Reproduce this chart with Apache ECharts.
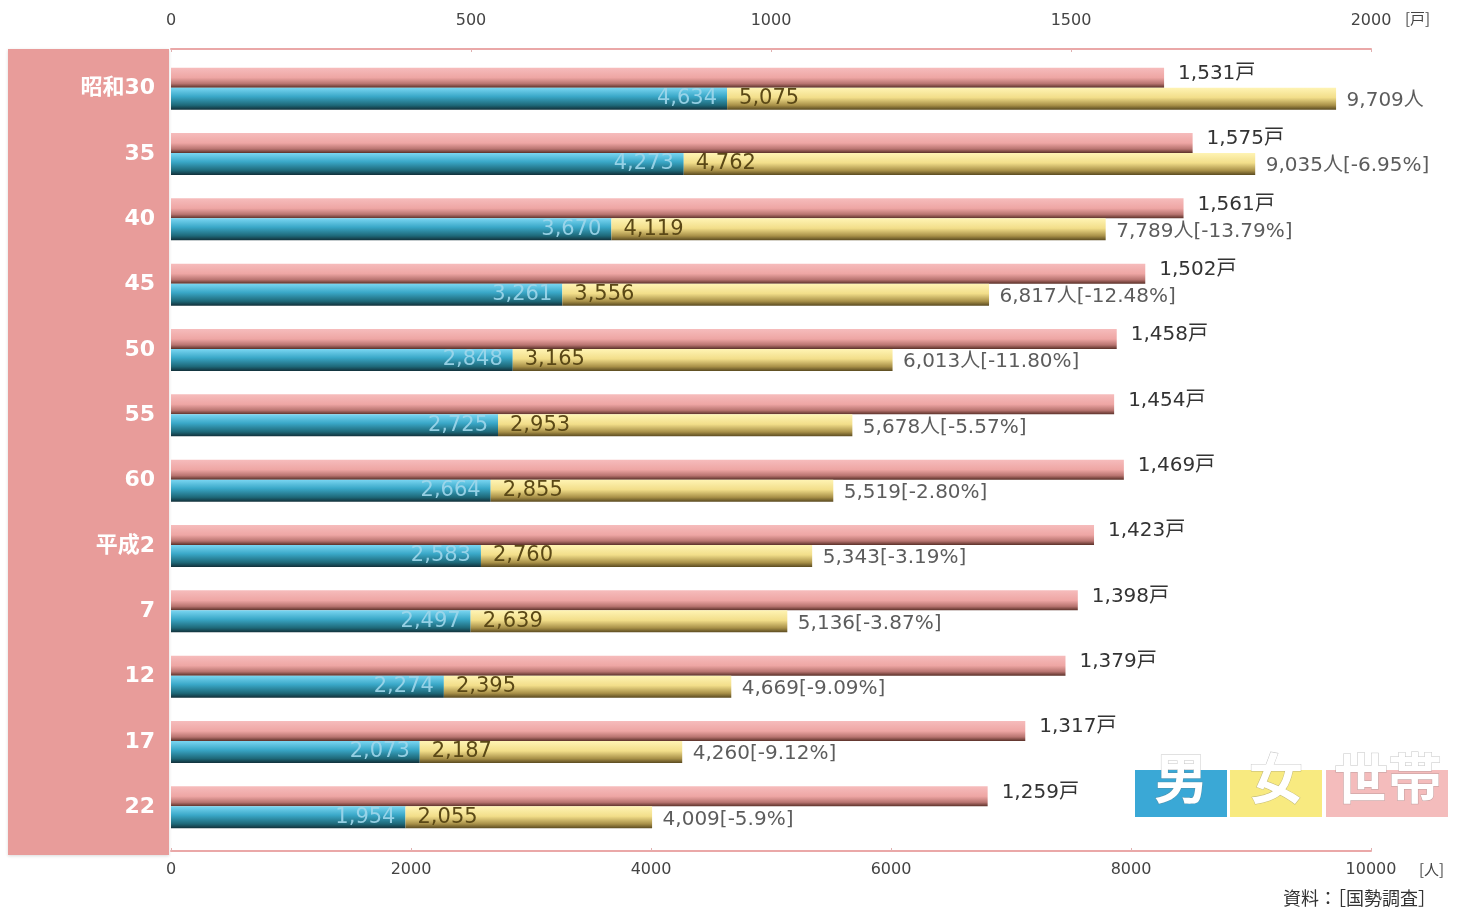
<!DOCTYPE html>
<html>
<head>
<meta charset="utf-8">
<script src="https://cdn.jsdelivr.net/npm/echarts@6/dist/echarts.min.js"></script>
<style>
html,body{margin:0;padding:0;background:#fff;}
#chart{width:1472px;height:914px;}
</style>
</head>
<body>
<div id="chart"></div>
<script>
const categories = ['昭和30','35','40','45','50','55','60','平成2','7','12','17','22'];
const households = [1531,1575,1561,1502,1458,1454,1469,1423,1398,1379,1317,1259];
const male = [4634,4273,3670,3261,2848,2725,2664,2583,2497,2274,2073,1954];
const female = [5075,4762,4119,3556,3165,2953,2855,2760,2639,2395,2187,2055];
const totals = [9709,9035,7789,6817,6013,5678,5519,5343,5136,4669,4260,4009];
const changes = ['', '-6.95%', '-13.79%', '-12.48%', '-11.80%', '-5.57%', '-2.80%', '-3.19%', '-3.87%', '-9.09%', '-9.12%', '-5.9%'];
const totalUnits = ['人','人','人','人','人','人','','','','','',''];
const householdTicks = [0,500,1000,1500,2000];
const peopleTicks = [0,2000,4000,6000,8000,10000];

const FONT = '"DejaVu Sans","Noto Sans CJK JP",sans-serif';
const fmt = v => String(v).replace(/\B(?=(\d{3})+(?!\d))/g, ',');
const grad = stops => new echarts.graphic.LinearGradient(0,0,0,1, stops.map(s=>({offset:s[0],color:s[1]})));

const chart = echarts.init(document.getElementById('chart'));
chart.setOption({
  animation:false,
  backgroundColor:'#ffffff',
  grid:{left:171,right:101,top:56,height:784,containLabel:false},
  xAxis:[
    {type:'value',position:'top',offset:7,min:householdTicks[0],max:householdTicks[householdTicks.length-1],interval:500,
     axisLine:{show:true,lineStyle:{color:'#eaa8a8',width:2}},
     axisTick:{show:true,inside:true,length:3,lineStyle:{color:'#e0b0b0'}},
     splitLine:{show:false},
     axisLabel:{color:'#444',fontSize:16,fontFamily:FONT,margin:20,formatter:v=>String(v)}},
    {type:'value',position:'bottom',offset:11,min:peopleTicks[0],max:peopleTicks[peopleTicks.length-1],interval:2000,
     axisLine:{show:true,lineStyle:{color:'#eaa8a8',width:2}},
     axisTick:{show:true,inside:true,length:3,lineStyle:{color:'#e0b0b0'}},
     splitLine:{show:false},
     axisLabel:{color:'#444',fontSize:16,fontFamily:FONT,margin:11,formatter:v=>String(v)}},
    {type:'value',position:'top',show:false,min:0,max:1850}
  ],
  yAxis:{type:'category',data:categories,inverse:true,
    axisLine:{show:false},axisTick:{show:false},splitLine:{show:false},
    axisLabel:{color:'#ffffff',fontSize:22,fontWeight:'bold',fontFamily:FONT,margin:16}},
  graphic:[
    {type:'rect',z:-10,shape:{x:8,y:49,width:161,height:806},style:{fill:'#e89c9a',shadowColor:'rgba(0,0,0,0.15)',shadowBlur:3,shadowOffsetY:1}},
    {type:'text',left:1405,top:11,style:{text:'[戸]',fill:'#444',font:'15px "Noto Sans CJK JP"'}},
    {type:'text',left:1419,top:862,style:{text:'[人]',fill:'#444',font:'15px "Noto Sans CJK JP"'}},
    {type:'text',left:1283,top:889,style:{text:'資料：［国勢調査］',fill:'#333',font:'18px "Noto Sans CJK JP"'}},
    {type:'rect',shape:{x:1135,y:770,width:92,height:47},style:{fill:'#3aa8d6'}},
    {type:'rect',shape:{x:1230,y:770,width:92,height:47},style:{fill:'#f8ea80'}},
    {type:'rect',shape:{x:1326,y:770,width:122,height:47},style:{fill:'#f4bcbc'}},
    {type:'text',x:1181,y:778,style:{text:'男',fill:'#fff',font:'bold 54px "Noto Sans CJK JP"',textAlign:'center',textVerticalAlign:'middle',stroke:'rgba(110,110,110,0.4)',lineWidth:1}},
    {type:'text',x:1276,y:778,style:{text:'女',fill:'#fff',font:'bold 54px "Noto Sans CJK JP"',textAlign:'center',textVerticalAlign:'middle',stroke:'rgba(110,110,110,0.4)',lineWidth:1}},
    {type:'text',x:1388,y:778,style:{text:'世帯',fill:'#fff',font:'bold 54px "Noto Sans CJK JP"',textAlign:'center',textVerticalAlign:'middle',stroke:'rgba(110,110,110,0.4)',lineWidth:1}}
  ],
  series:[
    {name:'世帯',type:'bar',xAxisIndex:2,yAxisIndex:0,barWidth:20,barGap:'0%',data:households,
     itemStyle:{color:grad([[0,'#f6bcbc'],[0.5,'#eea6a4'],[0.8,'#b87470'],[1,'#5a3028']])},
     label:{show:true,position:'right',distance:14,offset:[0,-4],color:'#333',fontSize:20,fontFamily:FONT,
       formatter:p=>fmt(p.value)+'戸'}},
    {name:'男',type:'bar',xAxisIndex:1,yAxisIndex:0,stack:'pop',barWidth:22,barGap:'0%',data:male,
     itemStyle:{color:grad([[0,'#7ad6f2'],[0.4,'#3aa8c8'],[0.8,'#1e6878'],[1,'#12303a']])},
     label:{show:true,position:'insideRight',distance:10,color:'rgba(160,215,235,0.9)',fontSize:21,fontFamily:FONT,
       formatter:p=>fmt(p.value)}},
    {name:'女',type:'bar',xAxisIndex:1,yAxisIndex:0,stack:'pop',barWidth:22,barGap:'0%',data:female,
     itemStyle:{color:grad([[0,'#fff4b4'],[0.45,'#f2de8a'],[0.8,'#a89048'],[1,'#5a4a20']])},
     label:{show:true,position:'insideLeft',distance:12,color:'#5a4816',fontSize:21,fontFamily:FONT,
       formatter:p=>fmt(p.value)}},
    {name:'計',type:'scatter',xAxisIndex:1,yAxisIndex:0,symbolSize:1,itemStyle:{color:'rgba(0,0,0,0)'},
     data:totals.map((v,i)=>[v,categories[i]]),z:5,
     label:{show:true,position:'right',distance:10,offset:[0,12],color:'#333',fontSize:20,fontFamily:FONT,
       formatter:p=>{const i=p.dataIndex;return fmt(totals[i])+totalUnits[i]+(changes[i]?'['+changes[i]+']':'');}}}
  ]
});
</script>
</body>
</html>
